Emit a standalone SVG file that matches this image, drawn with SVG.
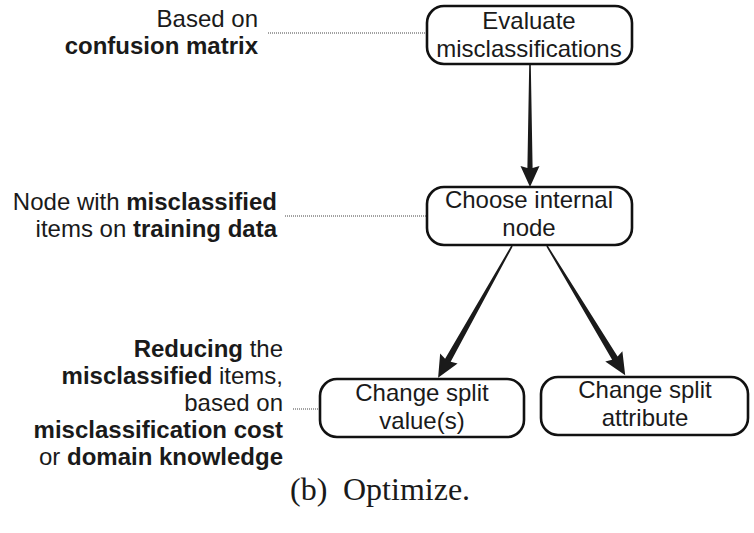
<svg xmlns="http://www.w3.org/2000/svg" width="754" height="533" viewBox="0 0 754 533">
<style>
.box{fill:#fff;stroke:#111;stroke-width:2.6}
.nt{font-family:"Liberation Sans",Arial,sans-serif;font-size:24px;fill:#1a1a1a;text-anchor:middle}
.an{font-family:"Liberation Sans",Arial,sans-serif;font-size:24px;fill:#1a1a1a;text-anchor:end}
.b{font-weight:bold}
.dot{stroke:#444;stroke-width:1;stroke-dasharray:1 1;fill:none}
.arr{fill:#1a1a1a}
.cap{font-family:"Liberation Serif","Times New Roman",serif;font-size:32px;fill:#1a1a1a}
</style>
<g id="connectors">
<path class="arr" transform="translate(530,65) rotate(90)" d="M0,-0.8 L103,-2.6 L101,-9.5 L122,0 L101,9.5 L103,2.6 L0,0.8 Z"/>
<path class="arr" transform="translate(512,246) rotate(119.3)" d="M0,-0.8 L131,-3.2 L129,-10 L151,0 L129,10 L131,3.2 L0,0.8 Z"/>
<path class="arr" transform="translate(547,246) rotate(58.8)" d="M0,-0.8 L131,-3.2 L129,-10 L151,0 L129,10 L131,3.2 L0,0.8 Z"/>
<line class="dot" x1="268" y1="33" x2="427" y2="33"/>
<line class="dot" x1="285" y1="216" x2="427" y2="216"/>
<line class="dot" x1="293" y1="409" x2="320" y2="409"/>
</g>
<g id="node-evaluate">
<rect class="box" x="427" y="6" width="205" height="58" rx="17"/>
<text class="nt" x="529" y="29">Evaluate</text>
<text class="nt" x="529" y="57">misclassifications</text>
</g>
<g id="node-choose">
<rect class="box" x="427" y="187" width="205" height="58" rx="17"/>
<text class="nt" x="529" y="208">Choose internal</text>
<text class="nt" x="529" y="236">node</text>
</g>
<g id="node-split-value">
<rect class="box" x="320" y="379" width="204" height="58" rx="17"/>
<text class="nt" x="422" y="401">Change split</text>
<text class="nt" x="422" y="429">value(s)</text>
</g>
<g id="node-split-attr">
<rect class="box" x="541" y="377" width="207" height="58" rx="17"/>
<text class="nt" x="645" y="398">Change split</text>
<text class="nt" x="645" y="426">attribute</text>
</g>
<g id="note-evaluate">
<text class="an" x="258" y="27">Based on</text>
<text class="an b" x="258" y="54">confusion matrix</text>
</g>
<g id="note-choose">
<text class="an" x="277" y="210">Node with <tspan class="b">misclassified</tspan></text>
<text class="an" x="277" y="237">items on <tspan class="b">training data</tspan></text>
</g>
<g id="note-split">
<text class="an" x="283" y="357"><tspan class="b">Reducing</tspan> the</text>
<text class="an" x="283" y="384"><tspan class="b">misclassified</tspan> items,</text>
<text class="an" x="283" y="411">based on</text>
<text class="an b" x="283" y="438">misclassification cost</text>
<text class="an" x="283" y="465">or <tspan class="b">domain knowledge</tspan></text>
</g>
<text class="cap" x="290" y="500">(b)</text>
<text class="cap" x="343" y="500">Optimize.</text>
</svg>
